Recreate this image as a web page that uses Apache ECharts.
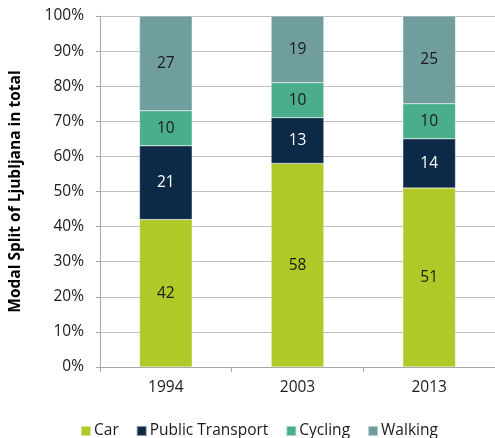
<!DOCTYPE html>
<html><head><meta charset="utf-8">
<script src="https://cdn.jsdelivr.net/npm/echarts@6/dist/echarts.min.js"></script>
<style>html,body{margin:0;padding:0;background:#fff}#c{width:495px;height:438px}</style>
</head><body><div id="c"></div>
<script>
const categories = ['1994', '2003', '2013'];
const car = [42, 58, 51];
const publicTransport = [21, 13, 14];
const cycling = [10, 10, 10];
const walking = [27, 19, 25];
const seriesNames = ['Car', 'Public Transport', 'Cycling', 'Walking'];
const colors = ['#b0c828', '#0c2a48', '#4aae8b', '#709e9f'];
const labelColors = ['#1a1a1a', '#ffffff', '#1a1a1a', '#1a1a1a'];
const dataSets = [car, publicTransport, cycling, walking];
const font = '"Open Sans", "Noto Sans", sans-serif';
const fs = 15.5;

const chart = echarts.init(document.getElementById('c'));
chart.setOption({
  animation: false,
  textStyle: { fontFamily: font },
  grid: { left: 100, right: 0, top: 16, bottom: 71 },
  legend: {
    top: 418, left: 75,
    itemWidth: 10, itemHeight: 10, itemGap: 17,
    icon: 'rect',
    textStyle: { fontFamily: font, fontSize: fs, color: '#1a1a1a', padding: [0, 0, 0, -2] },
    data: seriesNames
  },
  xAxis: {
    type: 'category', data: categories,
    axisLine: { lineStyle: { color: '#a6a6a6' } },
    axisTick: { show: true, length: 5, lineStyle: { color: '#a6a6a6' } },
    axisLabel: { fontFamily: font, fontSize: fs, color: '#1a1a1a', margin: 13 }
  },
  yAxis: {
    type: 'value', min: 0, max: 100, interval: 10,
    name: 'Modal Split of Ljubljana in total',
    nameLocation: 'middle', nameGap: 76, nameRotate: 90,
    nameTextStyle: { fontFamily: font, fontSize: 15.5, fontWeight: 'bold', color: '#000' },
    axisLine: { show: true, lineStyle: { color: '#a6a6a6' } },
    axisTick: { show: true, length: 4, lineStyle: { color: '#a6a6a6' } },
    axisLabel: { fontFamily: font, fontSize: fs, color: '#1a1a1a', margin: 16, formatter: '{value}%' },
    splitLine: { lineStyle: { color: '#bfbfbf' } }
  },
  series: dataSets.map((d, i) => ({
    name: seriesNames[i], type: 'bar', stack: 'total', data: d,
    barWidth: '40%',
    itemStyle: { color: colors[i], borderColor: 'rgba(255,255,255,0.5)', borderWidth: 0.5 },
    label: { show: true, position: 'inside', fontFamily: font, fontSize: fs, color: labelColors[i] }
  }))
});
</script></body></html>
